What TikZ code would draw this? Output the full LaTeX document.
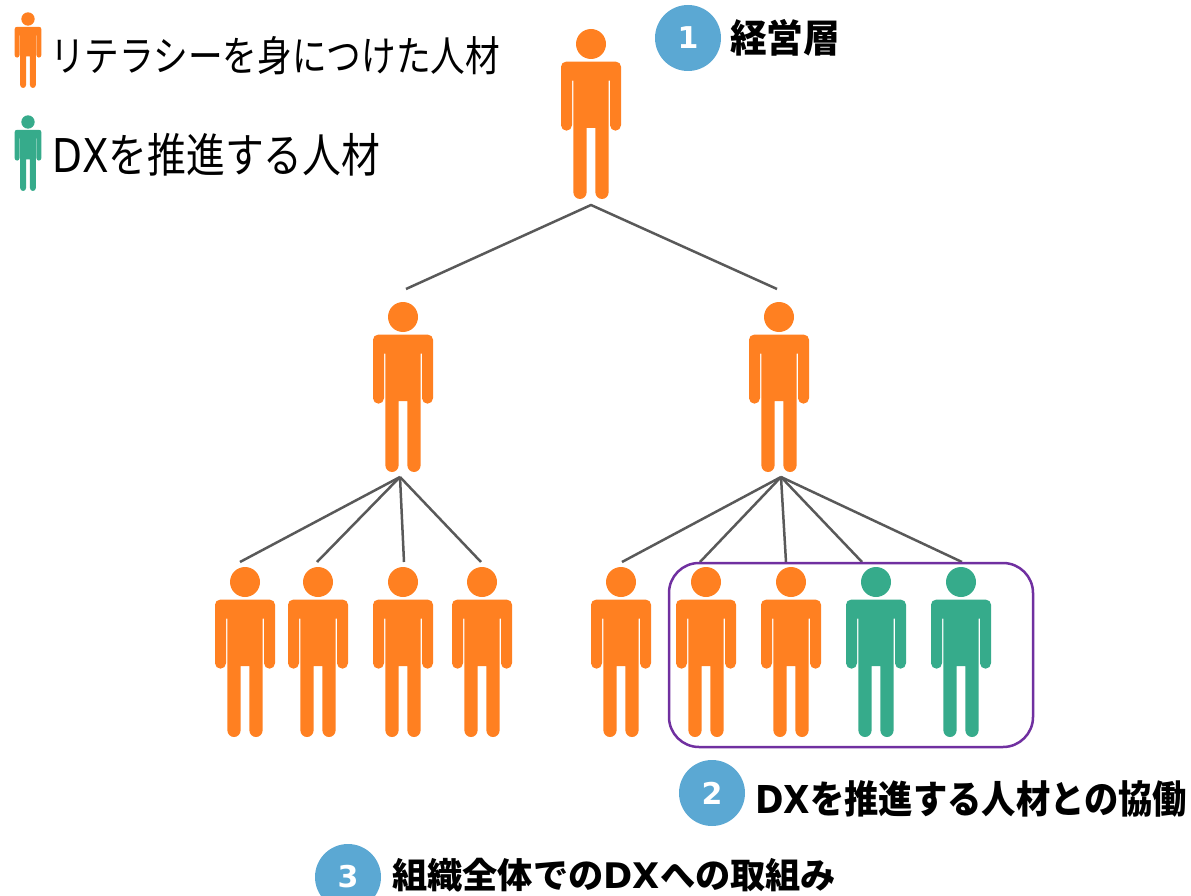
\documentclass[tikz,border=0pt]{standalone}
\usepackage{fontspec}
\usepackage{graphicx}
\setmainfont{Noto Sans CJK JP}
\newfontfamily\lat{DejaVu Sans}
\definecolor{mOrange}{HTML}{FF8021}
\definecolor{mGreen}{HTML}{36AB8B}
\definecolor{mBlue}{HTML}{5BA8D3}
\definecolor{mPurple}{HTML}{7030A0}
\definecolor{mLine}{HTML}{595959}
\tikzset{
  person/.pic={
    \fill[pic actions] (0,0) circle[radius=15];
    \fill[pic actions] (-25,17.7) -- (25,17.7) arc (-90:0:5) -- (30,81.2) arc (0:180:5.5)
      -- (19,36.7) -- (17.6,36.7) -- (17.6,148.4) arc (0:180:6.6) -- (4.4,84) -- (-4.4,84)
      -- (-4.4,148.4) arc (0:180:6.6) -- (-17.6,36.7) -- (-19,36.7) -- (-19,81.2)
      arc (0:180:5.5) -- (-30,22.7) arc (180:270:5) -- cycle;
  },
  link/.style={draw=mLine,line width=2.5pt,line join=round},
  badge/.style={circle,fill=mBlue,minimum size=66pt,inner sep=0pt,text=white,font=\lat\bfseries\fontsize{30}{30}\selectfont},
  plain/.style={anchor=west,inner sep=0pt,text=black,font=\fontsize{36}{36}\selectfont},
  strong/.style={anchor=west,inner sep=0pt,text=black,font=\bfseries\fontsize{36}{36}\selectfont},
  frame/.style={draw=mPurple,line width=2.5pt,rounded corners=30pt}
}
\begin{document}
\begin{tikzpicture}[x=1pt,y=-1pt]
\useasboundingbox (0,0) rectangle (1191,896);
\clip (0,0) rectangle (1191,896);
% people
\pic[fill=mOrange] (top) at (591,44) {person};
\pic[fill=mOrange] (ma) at (403,317) {person};
\pic[fill=mOrange] (mb) at (779,317) {person};
\foreach \n/\x/\c in {a/245/mOrange,b/318/mOrange,c/403/mOrange,d/482/mOrange,e/621/mOrange,f/706/mOrange,g/791/mOrange,h/876/mGreen,i/961/mGreen}
  \pic[fill=\c] (\n) at (\x,582) {person};
\pic[fill=mOrange,scale=.445] (la) at (28,19) {person};
\pic[fill=mGreen,scale=.445] (lb) at (28,122) {person};
% connector ends
\coordinate (hubT) at (591,205);
\coordinate (inA) at (406,289);
\coordinate (inB) at (777,289);
\coordinate (hubA) at (400,477);
\coordinate (hubB) at (781,477);
\coordinate (ia) at (240,562);
\coordinate (ib) at (317,562);
\coordinate (ic) at (404,562);
\coordinate (id) at (481,562);
\coordinate (ie) at (622,562);
\coordinate (if) at (700,562);
\coordinate (ig) at (786,562);
\coordinate (ih) at (862,562);
\coordinate (ii) at (962,562);
\draw[link] (inA) -- (hubT) -- (inB);
\foreach \e in {ia,ib,ic,id} \draw[link] (hubA) -- (\e);
\foreach \e in {ie,if,ig,ih,ii} \draw[link] (hubB) -- (\e);
% frame
\node[frame,minimum width=364pt,minimum height=184pt,inner sep=0pt] (box) at (851,655) {};
% badges
\node[badge] (n1) at (688,38) {1};
\node[badge] (n2) at (712,793) {2};
\node[badge] (n3) at (348,877) {3};
% labels
\node[plain] (legA) at (50,56) {\scalebox{1}[1.2]{\resizebox{450pt}{!}{リテラシーを身につけた人材}}};
\node[plain] (legB) at (52,155) {\scalebox{1}[1.2]{\resizebox{328pt}{!}{{\lat DX}を推進する人材}}};
\node[strong] (t1) at (730,38) {\scalebox{1}[1.05]{\resizebox{110pt}{!}{経営層}}};
\node[strong] (t2) at (755,799) {\scalebox{1}[1.12]{\resizebox{432pt}{!}{{\lat\bfseries DX}を推進する人材との協働}}};
\node[strong] (t3) at (392,875) {\resizebox{444pt}{!}{組織全体での{\lat\bfseries DX}への取組み}};
\end{tikzpicture}
\end{document}
